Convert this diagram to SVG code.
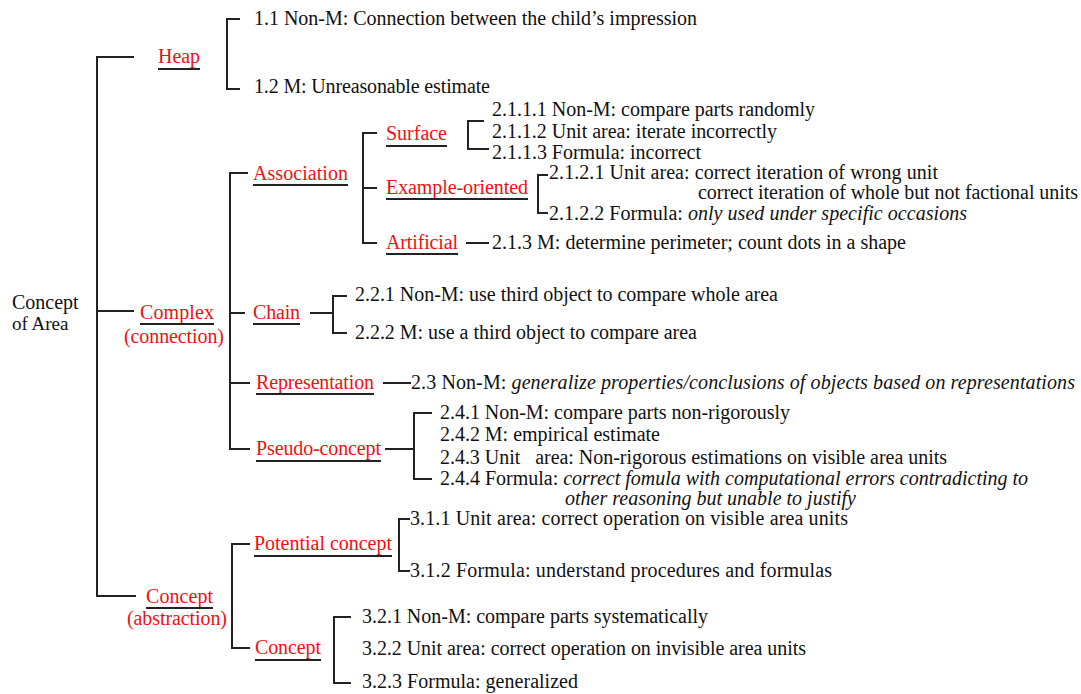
<svg xmlns="http://www.w3.org/2000/svg" width="1081" height="694" viewBox="0 0 1081 694">
<style>
.t{font-family:'Liberation Serif','Times New Roman',serif;font-size:20px;fill:#111}
.r{font-family:'Liberation Serif','Times New Roman',serif;font-size:20px;fill:#f01010}
.i{font-style:italic}
.ln{stroke:#222;stroke-width:2;fill:none}
.u{stroke:#222;stroke-width:2}
</style>
<rect width="1081" height="694" fill="#fff"/>
<g id="connectors" class="ln">
<path d="M134,57 H97 V596 H136 M97,311 H134"/>
<path d="M240,19 H227 V89 H240"/>
<path d="M248,173 H230 V449 H250 M230,313 H245 M230,383 H250"/>
<path d="M377,133 H363 V243 H377 M363,188 H377"/>
<path d="M484,121 H468 V149 H489"/>
<path d="M548,175 H538 V213 H548"/>
<path d="M466,243 H489"/>
<path d="M310,313 H333 M347,296 H333 V333 H347"/>
<path d="M383,383 H411"/>
<path d="M385,449 H414 M432,413 H414 V479 H432"/>
<path d="M250,544 H232 V648 H250"/>
<path d="M410,519 H399 V571 H410"/>
<path d="M351,617 H334 V683 H351"/>
</g>
<g id="root"><text class="t" x="12" y="309" font-size="19">Concept</text><text class="t" x="12" y="330" style="font-size:19px">of Area</text></g>
<g id="heap"><text class="r" x="158" y="63" textLength="42" lengthAdjust="spacing">Heap</text><line class="u" x1="158" y1="69" x2="200" y2="69"/></g>
<g id="n1-1"><text class="t" x="254" y="25" textLength="443" lengthAdjust="spacing">1.1 Non-M: Connection between the child’s impression</text></g>
<g id="n1-2"><text class="t" x="254" y="93" textLength="236" lengthAdjust="spacing">1.2 M: Unreasonable estimate</text></g>
<g id="complex"><text class="r" x="140" y="319" textLength="74" lengthAdjust="spacing">Complex</text><line class="u" x1="140" y1="324" x2="214" y2="324"/><text class="r" x="124" y="343" textLength="100" lengthAdjust="spacing">(connection)</text></g>
<g id="association"><text class="r" x="253" y="180" textLength="95" lengthAdjust="spacing">Association</text><line class="u" x1="253" y1="185" x2="348" y2="185"/></g>
<g id="surface"><text class="r" x="386" y="140" textLength="61" lengthAdjust="spacing">Surface</text><line class="u" x1="386" y1="146" x2="447" y2="146"/></g>
<g id="n2-1-1-1"><text class="t" x="492" y="116" textLength="323" lengthAdjust="spacing">2.1.1.1 Non-M: compare parts randomly</text></g>
<g id="n2-1-1-2"><text class="t" x="492" y="138" textLength="285" lengthAdjust="spacing">2.1.1.2 Unit area: iterate incorrectly</text></g>
<g id="n2-1-1-3"><text class="t" x="492" y="159" textLength="209" lengthAdjust="spacing">2.1.1.3 Formula: incorrect</text></g>
<g id="example"><text class="r" x="386" y="194" textLength="142" lengthAdjust="spacing">Example-oriented</text><line class="u" x1="386" y1="199" x2="528" y2="199"/></g>
<g id="n2-1-2-1"><text class="t" x="549" y="179" textLength="389" lengthAdjust="spacing">2.1.2.1 Unit area: correct iteration of wrong unit</text><text class="t" x="698" y="199" textLength="380" lengthAdjust="spacing">correct iteration of whole but not factional units</text></g>
<g id="n2-1-2-2"><text class="t" x="549" y="220" textLength="418" lengthAdjust="spacing">2.1.2.2 Formula: <tspan class="i">only used under specific occasions</tspan></text></g>
<g id="artificial"><text class="r" x="386" y="249" textLength="72" lengthAdjust="spacing">Artificial</text><line class="u" x1="386" y1="254" x2="458" y2="254"/></g>
<g id="n2-1-3"><text class="t" x="492" y="249" textLength="414" lengthAdjust="spacing">2.1.3 M: determine perimeter; count dots in a shape</text></g>
<g id="chain"><text class="r" x="253" y="319" textLength="47" lengthAdjust="spacing">Chain</text><line class="u" x1="253" y1="324" x2="300" y2="324"/></g>
<g id="n2-2-1"><text class="t" x="355" y="301" textLength="423" lengthAdjust="spacing">2.2.1 Non-M: use third object to compare whole area</text></g>
<g id="n2-2-2"><text class="t" x="355" y="339" textLength="342" lengthAdjust="spacing">2.2.2 M: use a third object to compare area</text></g>
<g id="representation"><text class="r" x="256" y="389" textLength="118" lengthAdjust="spacing">Representation</text><line class="u" x1="256" y1="394" x2="374" y2="394"/></g>
<g id="n2-3"><text class="t" x="411" y="389" textLength="664" lengthAdjust="spacing">2.3 Non-M: <tspan class="i">generalize properties/conclusions of objects based on representations</tspan></text></g>
<g id="pseudo"><text class="r" x="256" y="455" textLength="125" lengthAdjust="spacing">Pseudo-concept</text><line class="u" x1="256" y1="461" x2="381" y2="461"/></g>
<g id="n2-4-1"><text class="t" x="440" y="419" textLength="350" lengthAdjust="spacing">2.4.1 Non-M: compare parts non-rigorously</text></g>
<g id="n2-4-2"><text class="t" x="440" y="441" textLength="220" lengthAdjust="spacing">2.4.2 M: empirical estimate</text></g>
<g id="n2-4-3"><text class="t" x="440" y="464" textLength="507" lengthAdjust="spacing" xml:space="preserve">2.4.3 Unit   area: Non-rigorous estimations on visible area units</text></g>
<g id="n2-4-4"><text class="t" x="440" y="485" textLength="588" lengthAdjust="spacing">2.4.4 Formula: <tspan class="i">correct fomula with computational errors contradicting to</tspan></text><text class="t i" x="565" y="505" textLength="291" lengthAdjust="spacing">other reasoning but unable to justify</text></g>
<g id="concept-abs"><text class="r" x="146" y="603" textLength="67" lengthAdjust="spacing">Concept</text><line class="u" x1="146" y1="608" x2="213" y2="608"/><text class="r" x="127" y="625" textLength="100" lengthAdjust="spacing">(abstraction)</text></g>
<g id="potential"><text class="r" x="254" y="550" textLength="138" lengthAdjust="spacing">Potential concept</text><line class="u" x1="254" y1="556" x2="392" y2="556"/></g>
<g id="n3-1-1"><text class="t" x="410" y="525" textLength="438" lengthAdjust="spacing">3.1.1 Unit area: correct operation on visible area units</text></g>
<g id="n3-1-2"><text class="t" x="410" y="577" textLength="422" lengthAdjust="spacing">3.1.2 Formula: understand procedures and formulas</text></g>
<g id="concept"><text class="r" x="255" y="654" textLength="66" lengthAdjust="spacing">Concept</text><line class="u" x1="255" y1="660" x2="321" y2="660"/></g>
<g id="n3-2-1"><text class="t" x="362" y="623" textLength="346" lengthAdjust="spacing">3.2.1 Non-M: compare parts systematically</text></g>
<g id="n3-2-2"><text class="t" x="362" y="655" textLength="444" lengthAdjust="spacing">3.2.2 Unit area: correct operation on invisible area units</text></g>
<g id="n3-2-3"><text class="t" x="362" y="688" textLength="216" lengthAdjust="spacing">3.2.3 Formula: generalized</text></g>
</svg>
